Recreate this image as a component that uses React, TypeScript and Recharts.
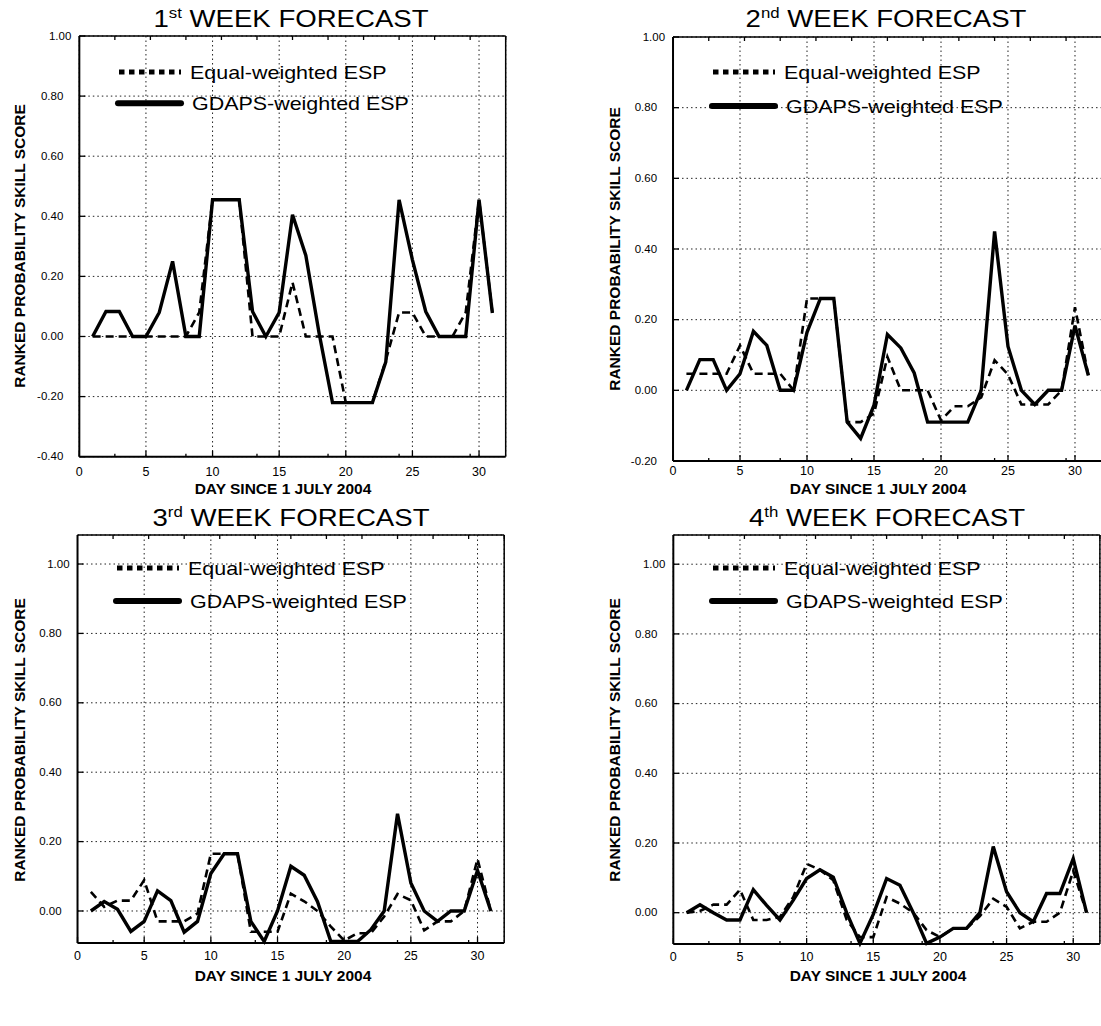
import React from 'react';
import { LineChart, Line, XAxis, YAxis, CartesianGrid, Legend } from 'recharts';

const FONT = '"Liberation Sans", Arial, Helvetica, sans-serif';

// ---------- data ----------
const days = [1, 2, 3, 4, 5, 6, 7, 8, 9, 10, 11, 12, 13, 14, 15, 16, 17, 18, 19, 20, 21, 22, 23, 24, 25, 26, 27, 28, 29, 30, 31];

const week1Equal = [0, 0, 0, 0, 0, 0, 0, 0, 0.08, 0.455, 0.455, 0.455, 0, 0, 0, 0.18, 0, 0, 0, -0.22, -0.22, -0.22, -0.08, 0.08, 0.08, 0, 0, 0, 0.08, 0.455, 0.08];
const week1Gdaps = [0, 0.083, 0.083, 0, 0, 0.08, 0.25, 0, 0, 0.455, 0.455, 0.455, 0.083, 0, 0.08, 0.405, 0.27, 0.01, -0.22, -0.22, -0.22, -0.22, -0.085, 0.455, 0.255, 0.083, 0, 0, 0, 0.455, 0.078];

const week2Equal = [0.047, 0.047, 0.047, 0.047, 0.127, 0.047, 0.047, 0.047, 0, 0.26, 0.26, 0.26, -0.09, -0.09, -0.066, 0.095, 0, 0, 0, -0.085, -0.045, -0.045, -0.02, 0.085, 0.045, -0.04, -0.04, -0.04, 0, 0.235, 0.042];
const week2Gdaps = [0, 0.087, 0.087, 0, 0.047, 0.167, 0.127, 0, 0, 0.164, 0.26, 0.26, -0.09, -0.136, -0.042, 0.158, 0.12, 0.049, -0.09, -0.09, -0.09, -0.09, 0, 0.45, 0.124, 0, -0.04, 0, 0, 0.183, 0.042];

const week3Equal = [0.055, 0.012, 0.03, 0.03, 0.089, -0.03, -0.03, -0.03, -0.007, 0.165, 0.165, 0.165, -0.06, -0.06, -0.06, 0.05, 0.028, 0, -0.045, -0.085, -0.064, -0.064, -0.016, 0.049, 0.031, -0.056, -0.03, -0.03, 0, 0.15, 0];
const week3Gdaps = [0, 0.027, 0.005, -0.059, -0.03, 0.058, 0.03, -0.061, -0.03, 0.108, 0.165, 0.165, -0.03, -0.088, 0, 0.129, 0.103, 0.027, -0.088, -0.088, -0.088, -0.054, 0, 0.28, 0.081, 0, -0.03, 0, 0, 0.117, 0];

const week4Equal = [0, 0.005, 0.023, 0.023, 0.066, -0.021, -0.021, -0.012, 0.045, 0.14, 0.123, 0.093, -0.02, -0.07, -0.07, 0.045, 0.026, 0, -0.05, -0.07, -0.045, -0.045, -0.01, 0.04, 0.017, -0.045, -0.026, -0.026, 0, 0.12, 0];
const week4Gdaps = [0, 0.023, 0, -0.021, -0.021, 0.066, 0.021, -0.021, 0.036, 0.098, 0.123, 0.102, 0, -0.088, -0.005, 0.098, 0.079, 0, -0.088, -0.07, -0.045, -0.045, 0, 0.19, 0.06, 0, -0.026, 0.055, 0.055, 0.155, 0];

const seriesNames = ['Equal-weighted ESP', 'GDAPS-weighted ESP'];
const titleNumbers = ['1', '2', '3', '4'];
const titleSuffixes = ['st', 'nd', 'rd', 'th'];
const titleText = ' WEEK FORECAST';
const xTitle = 'DAY SINCE 1 JULY 2004';
const yTitle = 'RANKED PROBABILITY SKILL SCORE';

// ---------- ticks ----------
const xMajorTicks = [0, 5, 10, 15, 20, 25, 30];
const xMinorTicks = [2.5, 7.5, 12.5, 17.5, 22.5, 27.5];
const xTopTicks = [2.5, 5, 7.5, 10, 12.5, 15, 17.5, 20, 22.5, 25, 27.5, 30];

const yTicksWeek1 = [-0.4, -0.2, 0, 0.2, 0.4, 0.6, 0.8, 1.0];
const yMinorWeek1 = [-0.3, -0.1, 0.1, 0.3, 0.5, 0.7, 0.9];
const yRightWeek1 = [0.853, 0.709, 0.563, 0.415, 0.27, 0.125, -0.02, -0.167, -0.314];

const yTicksWeek2 = [-0.2, 0, 0.2, 0.4, 0.6, 0.8, 1.0];
const yMinorWeek2 = [-0.1, 0.1, 0.3, 0.5, 0.7, 0.9];
const yRightWeek2 = [0.875, 0.751, 0.629, 0.505, 0.38, 0.256, 0.134, 0.009, -0.115];

const yTicksLower = [0, 0.2, 0.4, 0.6, 0.8, 1.0];
const yMinorLower = [0.1, 0.3, 0.5, 0.7, 0.9];
const yRightLower = [0.96, 0.83, 0.7, 0.58, 0.45, 0.32, 0.2, 0.07, -0.06];

type Margin = { top: number; right: number; bottom: number; left: number };

type PanelSpec = {
  left: number;
  top: number;
  width: number;
  height: number;
  margin: Margin;
  yDomain: [number, number];
  yTicks: number[];
  yMinor: number[];
  yRight: number[];
  equal: number[];
  gdaps: number[];
  xTickMargin: number;
  legend: { x: number; y0: number; y1: number };
  title: { cx: number; base: number };
  xTitlePos: { cx: number; base: number };
  yTitlePos: { x: number; cy: number };
};

const panels: PanelSpec[] = [
  {
    left: 0, top: 0, width: 540, height: 510,
    margin: { top: 36, left: 79.3, right: 34.3, bottom: 53.3 },
    yDomain: [-0.4, 1.0], yTicks: yTicksWeek1, yMinor: yMinorWeek1, yRight: yRightWeek1,
    equal: week1Equal, gdaps: week1Gdaps, xTickMargin: 16,
    legend: { x: 119, y0: 71.5, y1: 102.7 },
    title: { cx: 291, base: 27 },
    xTitlePos: { cx: 283, base: 494 },
    yTitlePos: { x: 25, cy: 246 },
  },
  {
    left: 600, top: 0, width: 510, height: 510,
    margin: { top: 37, left: 73, right: 8.2, bottom: 49 },
    yDomain: [-0.2, 1.0], yTicks: yTicksWeek2, yMinor: yMinorWeek2, yRight: yRightWeek2,
    equal: week2Equal, gdaps: week2Gdaps, xTickMargin: 11.5,
    legend: { x: 713, y0: 72, y1: 106 },
    title: { cx: 886, base: 27 },
    xTitlePos: { cx: 878, base: 494 },
    yTitlePos: { x: 620, cy: 249 },
  },
  {
    left: 0, top: 500, width: 540, height: 510,
    margin: { top: 35, left: 77.5, right: 35.8, bottom: 67 },
    yDomain: [-0.0922, 1.0836], yTicks: yTicksLower, yMinor: yMinorLower, yRight: yRightLower,
    equal: week3Equal, gdaps: week3Gdaps, xTickMargin: 14.5,
    legend: { x: 117, y0: 568, y1: 601 },
    title: { cx: 291, base: 526 },
    xTitlePos: { cx: 283, base: 981 },
    yTitlePos: { x: 25, cy: 740 },
  },
  {
    left: 600, top: 500, width: 510, height: 510,
    margin: { top: 35, left: 73.3, right: 10.1, bottom: 66 },
    yDomain: [-0.0898, 1.0838], yTicks: yTicksLower, yMinor: yMinorLower, yRight: yRightLower,
    equal: week4Equal, gdaps: week4Gdaps, xTickMargin: 14.5,
    legend: { x: 713, y0: 568, y1: 601 },
    title: { cx: 887, base: 526 },
    xTitlePos: { cx: 878, base: 981 },
    yTitlePos: { x: 620, cy: 740 },
  },
];

const fmtY = (v: number) => v.toFixed(2);
const fmtX = (v: number) => String(v);
const blank = () => '';
const THIN = 0.01;

const YTick = (props: any) => {
  const { x, y, payload } = props;
  const v = payload.value as number;
  const shift = v === 1 ? 8 : 0;
  return (
    <text
      transform={`translate(${x + shift},${y}) scale(1.15,1)`}
      textAnchor="end" dy="0.36em" fontSize={10} fontFamily={FONT} fill="#000"
    >
      {fmtY(v)}
    </text>
  );
};

const XTick = (props: any) => {
  const { x, y, payload } = props;
  return (
    <text x={x} y={y} textAnchor="middle" dy="0.71em" fontSize={12.5} fontFamily={FONT} fill="#000">
      {fmtX(payload.value)}
    </text>
  );
};

function makeLegend(spec: PanelSpec) {
  const dy = spec.legend.y1 - spec.legend.y0;
  return (props: any) => {
    const payload = props.payload || [];
    return (
      <svg width={380} height={80} style={{ display: 'block', overflow: 'visible' }}>
        {payload.map((entry: any, i: number) => {
          const y = 30 + (i === 0 ? 0 : dy);
          const tx = i === 0 ? 81 : 83;
          return (
            <g key={i}>
              {i === 0 ? (
                <line x1={10} x2={72} y1={y} y2={y} stroke="#000" strokeWidth={5} strokeDasharray="5.5 4.5" />
              ) : (
                <line x1={9} x2={72} y1={y} y2={y} stroke="#000" strokeWidth={6} strokeLinecap="round" />
              )}
              <text
                transform={`translate(${tx},${y + 6.5}) scale(1.16,1)`}
                fontSize={18.5} fontFamily={FONT} fill="#000"
              >
                {entry.value}
              </text>
            </g>
          );
        })}
      </svg>
    );
  };
}

function Panel({ spec }: { spec: PanelSpec }) {
  const data = days.map((d, i) => ({ day: d, equal: spec.equal[i], gdaps: spec.gdaps[i] }));
  const axisLine = { stroke: '#000', strokeWidth: 2 };
  const frameLine = { stroke: '#000', strokeWidth: 1.5 };
  const tickLine = { stroke: '#000', strokeWidth: 1.3 };
  return (
    <div style={{ position: 'absolute', left: spec.left, top: spec.top }}>
      <LineChart width={spec.width} height={spec.height} data={data} margin={spec.margin}>
        <CartesianGrid stroke="#222" strokeWidth={1} strokeDasharray="1.5 3" />
        <XAxis
          dataKey="day" type="number" domain={[0, 32]} ticks={xMajorTicks} interval={0}
          height={THIN} tickSize={-6} tickMargin={spec.xTickMargin}
          tick={<XTick />} axisLine={axisLine} tickLine={tickLine}
        />
        <XAxis
          xAxisId="xMinor" type="number" domain={[0, 32]} ticks={xMinorTicks} interval={0}
          height={THIN} tickSize={-3} tickFormatter={blank} axisLine={false} tickLine={tickLine}
        />
        <XAxis
          xAxisId="xTop" orientation="top" type="number" domain={[0, 32]} ticks={xTopTicks} interval={0}
          height={THIN} tickSize={-4} tickFormatter={blank} axisLine={frameLine} tickLine={tickLine}
        />
        <YAxis
          type="number" domain={spec.yDomain} ticks={spec.yTicks} interval={0}
          width={THIN} tickSize={-6} tickMargin={22}
          tick={<YTick />} axisLine={axisLine} tickLine={tickLine}
        />
        <YAxis
          yAxisId="yMinor" type="number" domain={spec.yDomain} ticks={spec.yMinor} interval={0}
          width={THIN} tickSize={-3} tickFormatter={blank} axisLine={false} tickLine={tickLine}
        />
        <YAxis
          yAxisId="yRight" orientation="right" type="number" domain={spec.yDomain} ticks={spec.yRight} interval={0}
          width={THIN} tickSize={-4} tickFormatter={blank} axisLine={frameLine} tickLine={tickLine}
        />
        <Legend
          layout="vertical" align="center" verticalAlign="middle"
          wrapperStyle={{
            left: spec.legend.x - 10 - spec.left,
            top: spec.legend.y0 - 30 - spec.top,
            width: 380, height: 80,
          }}
          content={makeLegend(spec)}
        />
        <Line
          type="linear" dataKey="equal" name={seriesNames[0]} stroke="#000" strokeWidth={2.6}
          strokeDasharray="8 5" dot={false} activeDot={false} isAnimationActive={false}
        />
        <Line
          type="linear" dataKey="gdaps" name={seriesNames[1]} stroke="#000" strokeWidth={3.4}
          dot={false} activeDot={false} isAnimationActive={false}
        />
      </LineChart>
    </div>
  );
}

export default function App() {
  return (
    <div style={{ position: 'absolute', left: 0, top: 0, width: 1101, height: 1026, overflow: 'hidden', background: '#fff' }}>
      {panels.map((p, i) => (
        <Panel key={i} spec={p} />
      ))}
      <svg width={1101} height={1026} style={{ position: 'absolute', left: 0, top: 0, pointerEvents: 'none' }}>
        {panels.map((p, i) => (
          <g key={i} fontFamily={FONT} fill="#000">
            <text transform={`translate(${p.title.cx},${p.title.base}) scale(1.2,1)`} textAnchor="middle" fontSize={23}>
              {titleNumbers[i]}
              <tspan fontSize={14} dy={-9}>{titleSuffixes[i]}</tspan>
              <tspan dy={9}>{titleText}</tspan>
            </text>
            <text x={p.xTitlePos.cx} y={p.xTitlePos.base} textAnchor="middle" fontSize={15.5} fontWeight="bold">
              {xTitle}
            </text>
            <text
              transform={`translate(${p.yTitlePos.x},${p.yTitlePos.cy}) rotate(-90)`}
              textAnchor="middle" fontSize={15.5} fontWeight="bold"
            >
              {yTitle}
            </text>
          </g>
        ))}
      </svg>
    </div>
  );
}
